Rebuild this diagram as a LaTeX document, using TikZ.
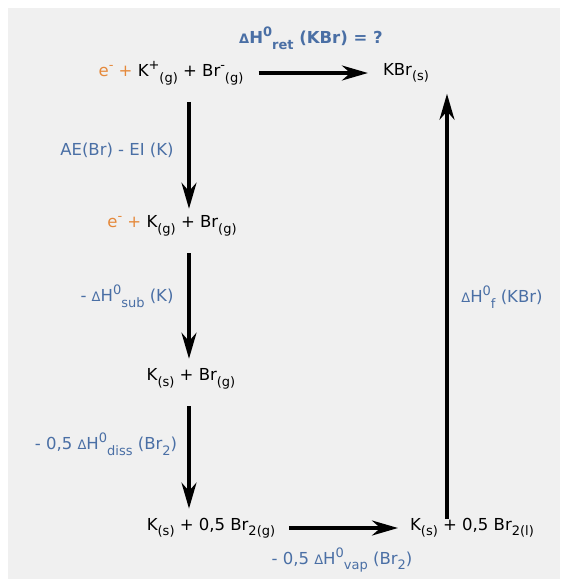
\documentclass[tikz,border=0pt]{standalone}
\usepackage{fontspec}
\setmainfont{DejaVu Sans}
\usetikzlibrary{arrows.meta,positioning}
\definecolor{cyclebg}{HTML}{F0F0F0}
\definecolor{cycleblue}{HTML}{4A6FA5}
\definecolor{cycleorange}{HTML}{E5893B}
\newcommand{\chsub}[1]{\raisebox{-0.6ex}{\fontsize{13}{14}\selectfont #1}}
\newcommand{\chsup}[1]{\raisebox{0.8ex}{\fontsize{13}{14}\selectfont #1}}
\newcommand{\elec}{{\color{cycleorange}e\chsup{-} +}}
\newcommand{\dH}[1]{{\fontsize{13}{14}\selectfont Δ}H\chsup{0}\chsub{#1}}

\begin{document}
\begin{tikzpicture}[
  x=1pt,y=-1pt,
  every node/.style={font=\fontsize{16.5}{19}\selectfont,inner sep=3pt},
  spec/.style={text=black},
  lab/.style={text=cycleblue},
  arr/.style={-{Stealth[length=26pt,width=15pt]},line width=3.4pt}
]
\useasboundingbox (0,0) rectangle (563,579);
\fill[cyclebg] (8,8) rectangle (560,579);

\coordinate (col) at (189,0);
\coordinate (colr) at (447,0);

\node[spec] (ions) at (171,73) {\elec\ K\chsup{+}\chsub{(g)} + Br\chsup{-}\chsub{(g)}};
\node[spec] (kbr) at (406,73) {KBr\chsub{(s)}};
\node[spec] (atoms) at (172,226) {\elec\ K\chsub{(g)} + Br\chsub{(g)}};
\node[spec] (solidk) at (191,379) {K\chsub{(s)} + Br\chsub{(g)}};
\node[spec] (brgas) at (211,528) {K\chsub{(s)} + 0,5 Br\chsub{2(g)}};
\node[spec] (brliq) at (472,528) {K\chsub{(s)} + 0,5 Br\chsub{2(l)}};

\node[lab,font=\fontsize{16.5}{19}\selectfont\bfseries] (hret) at (311,38) {\dH{ret} (KBr) = ?};
\node[lab] (aeei) at (117,150) {AE(Br) - EI (K)};
\node[lab] (hsub) at (127,296) {- \dH{sub} (K)};
\node[lab] (hdiss) at (106,444) {- 0,5 \dH{diss} (Br\chsub{2})};
\node[lab] (hvap) at (342,560) {- 0,5 \dH{vap} (Br\chsub{2})};
\node[lab] (hf) at (502,297) {\dH{f} (KBr)};

\draw[arr,shorten <=12pt,shorten >=12pt] (ions.east) -- (kbr.west);
\draw[arr,shorten <=14pt,shorten >=4pt] (ions.south -| col) -- (atoms.north -| col);
\draw[arr,shorten <=14pt,shorten >=7pt] (atoms.south -| col) -- (solidk.north -| col);
\draw[arr,shorten <=14pt,shorten >=6pt] (solidk.south -| col) -- (brgas.north -| col);
\draw[arr,shorten <=11pt,shorten >=9pt] (brgas.east) -- (brliq.west);
\draw[arr,shorten <=9pt,shorten >=8pt] (brliq.center -| colr) -- (kbr.south -| colr);
\end{tikzpicture}
\end{document}
